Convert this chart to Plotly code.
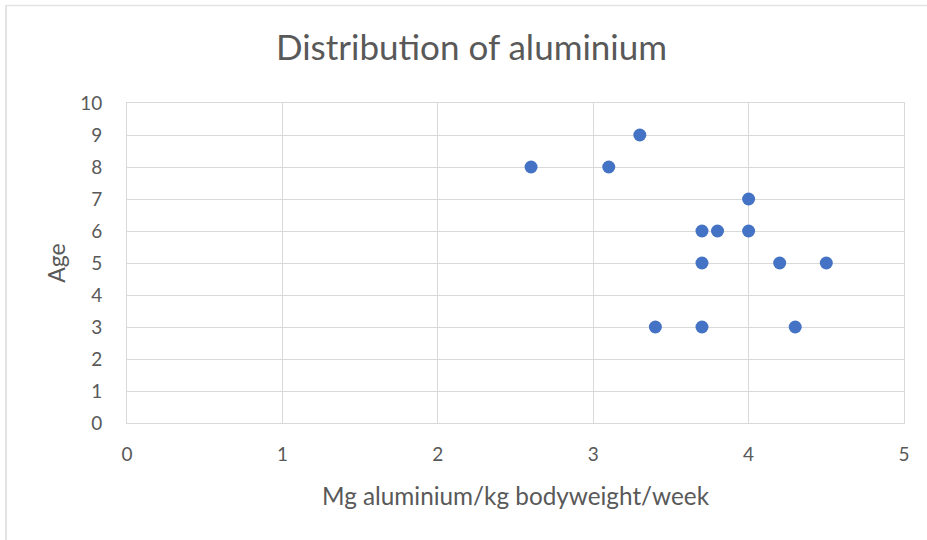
import plotly.graph_objects as go

x_vals = [2.6, 3.1, 3.3, 4.0, 3.7, 3.8, 4.0, 3.7, 4.2, 4.5, 3.4, 3.7, 4.3]
ages = [8, 8, 9, 7, 6, 6, 6, 5, 5, 5, 3, 3, 3]

W, H = 927, 540
L, T = 127, 103
R = W - 904
B = H - 423
pw, ph = W - L - R, H - T - B

fig = go.Figure(go.Scatter(
    x=x_vals, y=ages, mode="markers",
    marker=dict(color="#4472C4", size=13, line=dict(width=0)),
))

font_family = "Lato, Open Sans, sans-serif"
grid = "#D9D9D9"
border = "#E3E3E3"

fig.update_layout(
    width=W, height=H,
    margin=dict(l=L, r=R, t=T, b=B),
    paper_bgcolor="white", plot_bgcolor="white",
    font=dict(family=font_family, color="#595959", size=19),
    title=dict(text="Distribution of aluminium", x=471.5 / W, xanchor="center",
               y=1 - 48 / H, yanchor="middle",
               font=dict(size=35, color="#595959", family=font_family)),
    showlegend=False,
    xaxis=dict(range=[0, 5], dtick=1, showgrid=True, gridcolor=grid, gridwidth=1,
               showline=True, linecolor=grid, mirror=True, zeroline=False,
               ticks="", ticklabelstandoff=14,
               title=dict(text="Mg aluminium/kg bodyweight/week", standoff=24,
                          font=dict(size=24.3, color="#595959"))),
    yaxis=dict(range=[0, 10], dtick=1, showgrid=True, gridcolor=grid, gridwidth=1,
               showline=True, linecolor=grid, mirror=True, zeroline=False,
               ticks="", ticklabelstandoff=20,
               title=dict(text="Age", standoff=8,
                          font=dict(size=23, color="#595959"))),
    shapes=[
        dict(type="line", xref="paper", yref="paper",
             x0=(6 - L) / pw, x1=(W - L) / pw,
             y0=(H - B - 5.5) / ph, y1=(H - B - 5.5) / ph,
             line=dict(color=border, width=1.5), layer="below"),
        dict(type="line", xref="paper", yref="paper",
             x0=(6 - L) / pw, x1=(6 - L) / pw,
             y0=(H - B - H) / ph, y1=(H - B - 5) / ph,
             line=dict(color=border, width=2), layer="below"),
    ],
)

fig.write_html(
    "out.html",
    config={"displayModeBar": False},
    post_script="document.body.style.margin='0';document.body.style.overflow='hidden';",
)
